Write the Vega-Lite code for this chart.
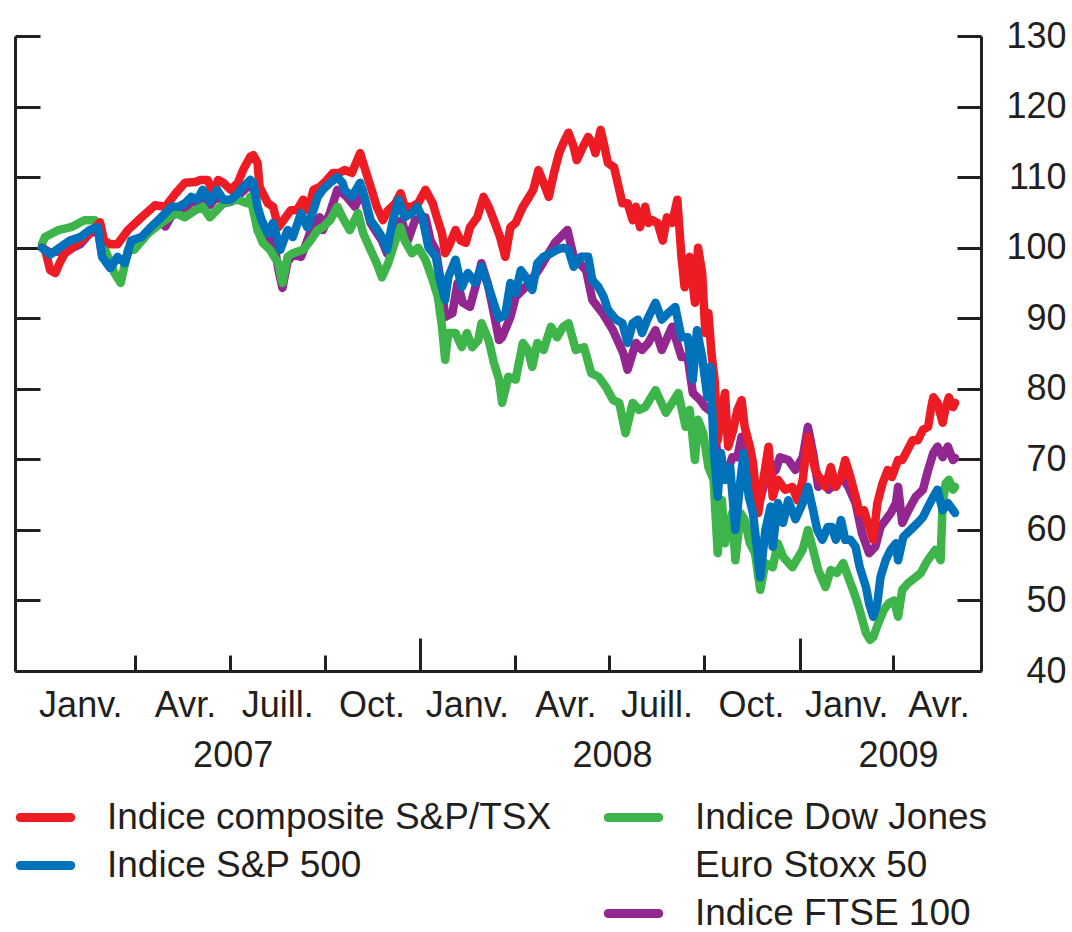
{
"$schema": "https://vega.github.io/schema/vega-lite/v6.json",
"width": 966,
"height": 635,
"autosize": {"type": "none"},
"padding": {"left": 15, "top": 36, "right": 91, "bottom": 261},
"background": "white",
"config": {
  "view": {"stroke": null},
  "font": "Liberation Sans",
  "axis": {"grid": false, "labelFont": "Liberation Sans", "labelColor": "#231F20", "tickColor": "#231F20", "domainColor": "#231F20", "labelOverlap": false, "labelFlush": false, "labelBound": false, "title": null},
  "legend": {"labelFont": "Liberation Sans", "labelColor": "#231F20", "labelLimit": 0}
},
"datasets": {
  "tsx": [
{"date":"2007-01-01","value":100},{"date":"2007-01-04","value":99.7},{"date":"2007-01-09","value":96.8},{"date":"2007-01-14","value":96.4},{"date":"2007-01-18","value":97.8},{"date":"2007-01-23","value":99.2},{"date":"2007-01-28","value":99.7},{"date":"2007-02-07","value":101},{"date":"2007-02-16","value":102},{"date":"2007-02-26","value":103.6},{"date":"2007-03-02","value":101},{"date":"2007-03-08","value":100.5},{"date":"2007-03-15","value":100.5},{"date":"2007-03-25","value":102.5},{"date":"2007-04-07","value":104.3},{"date":"2007-04-20","value":106},{"date":"2007-04-30","value":105.8},{"date":"2007-05-10","value":107.7},{"date":"2007-05-19","value":109.2},{"date":"2007-05-29","value":109.3},{"date":"2007-06-03","value":109.6},{"date":"2007-06-10","value":109.6},{"date":"2007-06-15","value":107.7},{"date":"2007-06-20","value":109.6},{"date":"2007-06-25","value":109.2},{"date":"2007-07-02","value":108.2},{"date":"2007-07-09","value":109.2},{"date":"2007-07-14","value":111},{"date":"2007-07-21","value":112.9},{"date":"2007-07-24","value":113.1},{"date":"2007-07-28","value":112},{"date":"2007-07-30","value":108.6},{"date":"2007-08-07","value":106.3},{"date":"2007-08-12","value":105.8},{"date":"2007-08-17","value":102.9},{"date":"2007-08-22","value":103.9},{"date":"2007-08-29","value":105.3},{"date":"2007-09-04","value":105.3},{"date":"2007-09-10","value":106.8},{"date":"2007-09-15","value":105.3},{"date":"2007-09-20","value":108.2},{"date":"2007-09-26","value":108.6},{"date":"2007-10-03","value":109.6},{"date":"2007-10-09","value":110.6},{"date":"2007-10-15","value":110.6},{"date":"2007-10-20","value":111},{"date":"2007-10-27","value":110.6},{"date":"2007-11-04","value":113.4},{"date":"2007-11-09","value":111},{"date":"2007-11-15","value":108.2},{"date":"2007-11-20","value":105.8},{"date":"2007-11-26","value":103.9},{"date":"2007-12-01","value":105.3},{"date":"2007-12-08","value":106.3},{"date":"2007-12-13","value":107.7},{"date":"2007-12-17","value":105.8},{"date":"2007-12-24","value":105.8},{"date":"2007-12-30","value":106.3},{"date":"2008-01-06","value":108.2},{"date":"2008-01-13","value":106.3},{"date":"2008-01-17","value":104.3},{"date":"2008-01-22","value":102},{"date":"2008-01-25","value":99.2},{"date":"2008-01-28","value":100},{"date":"2008-02-04","value":102.5},{"date":"2008-02-09","value":101},{"date":"2008-02-14","value":100.7},{"date":"2008-02-18","value":102.9},{"date":"2008-02-25","value":104.3},{"date":"2008-03-02","value":107.2},{"date":"2008-03-07","value":105.8},{"date":"2008-03-12","value":103.9},{"date":"2008-03-18","value":101.5},{"date":"2008-03-23","value":98.7},{"date":"2008-03-28","value":102.9},{"date":"2008-04-02","value":103.5},{"date":"2008-04-09","value":105.8},{"date":"2008-04-15","value":107.2},{"date":"2008-04-19","value":108.2},{"date":"2008-04-24","value":111},{"date":"2008-04-29","value":109.2},{"date":"2008-05-04","value":107.2},{"date":"2008-05-09","value":110.6},{"date":"2008-05-14","value":113.4},{"date":"2008-05-18","value":114.8},{"date":"2008-05-23","value":116.3},{"date":"2008-05-28","value":114.3},{"date":"2008-05-31","value":112.4},{"date":"2008-06-06","value":114.3},{"date":"2008-06-11","value":115.7},{"date":"2008-06-15","value":114.8},{"date":"2008-06-18","value":113.4},{"date":"2008-06-23","value":116.7},{"date":"2008-06-26","value":114.8},{"date":"2008-06-30","value":112},{"date":"2008-07-06","value":111.4},{"date":"2008-07-11","value":108.2},{"date":"2008-07-14","value":106.3},{"date":"2008-07-19","value":106.3},{"date":"2008-07-24","value":103.9},{"date":"2008-07-27","value":105.8},{"date":"2008-07-31","value":102.9},{"date":"2008-08-05","value":105.8},{"date":"2008-08-08","value":103.5},{"date":"2008-08-12","value":103.9},{"date":"2008-08-17","value":103.5},{"date":"2008-08-22","value":101},{"date":"2008-08-26","value":104.3},{"date":"2008-08-31","value":103.5},{"date":"2008-09-05","value":106.8},{"date":"2008-09-09","value":98.7},{"date":"2008-09-12","value":94.4},{"date":"2008-09-17","value":98.7},{"date":"2008-09-22","value":92.2},{"date":"2008-09-25","value":100},{"date":"2008-09-29","value":96.4},{"date":"2008-10-02","value":87.9},{"date":"2008-10-05","value":90.7},{"date":"2008-10-08","value":85},{"date":"2008-10-11","value":81.2},{"date":"2008-10-14","value":72.7},{"date":"2008-10-18","value":77},{"date":"2008-10-21","value":79.4},{"date":"2008-10-24","value":71.8},{"date":"2008-10-29","value":74.2},{"date":"2008-11-02","value":77},{"date":"2008-11-06","value":78.4},{"date":"2008-11-09","value":74.6},{"date":"2008-11-14","value":71.8},{"date":"2008-11-17","value":69.5},{"date":"2008-11-22","value":62.4},{"date":"2008-11-27","value":67.1},{"date":"2008-12-02","value":71.8},{"date":"2008-12-06","value":64.7},{"date":"2008-12-11","value":67.1},{"date":"2008-12-18","value":65.7},{"date":"2008-12-25","value":66.1},{"date":"2008-12-30","value":64.2},{"date":"2009-01-04","value":67.1},{"date":"2009-01-09","value":73.2},{"date":"2009-01-12","value":71.3},{"date":"2009-01-16","value":68.5},{"date":"2009-01-21","value":67.1},{"date":"2009-01-26","value":66.1},{"date":"2009-01-31","value":68.9},{"date":"2009-02-05","value":66.1},{"date":"2009-02-10","value":67.5},{"date":"2009-02-14","value":69.9},{"date":"2009-02-19","value":67.5},{"date":"2009-02-24","value":64.7},{"date":"2009-02-28","value":62.4},{"date":"2009-03-04","value":62.8},{"date":"2009-03-09","value":60.4},{"date":"2009-03-13","value":58.6},{"date":"2009-03-17","value":63.8},{"date":"2009-03-22","value":66.6},{"date":"2009-03-27","value":68.5},{"date":"2009-03-31","value":67.5},{"date":"2009-04-06","value":69.9},{"date":"2009-04-10","value":69.9},{"date":"2009-04-15","value":71.3},{"date":"2009-04-20","value":72.7},{"date":"2009-04-25","value":72.7},{"date":"2009-04-30","value":74.2},{"date":"2009-05-05","value":74.6},{"date":"2009-05-08","value":77.4},{"date":"2009-05-10","value":78.8},{"date":"2009-05-14","value":78},{"date":"2009-05-19","value":75.2},{"date":"2009-05-22","value":77.4},{"date":"2009-05-25","value":78.8},{"date":"2009-05-29","value":77.4},{"date":"2009-05-31","value":78}
  ],
  "sp500": [
{"date":"2007-01-01","value":100},{"date":"2007-01-09","value":99},{"date":"2007-01-18","value":100},{"date":"2007-01-28","value":101},{"date":"2007-02-07","value":101.5},{"date":"2007-02-16","value":102.5},{"date":"2007-02-24","value":102.9},{"date":"2007-02-28","value":98.7},{"date":"2007-03-08","value":97.1},{"date":"2007-03-15","value":98.7},{"date":"2007-03-22","value":97.8},{"date":"2007-03-28","value":101},{"date":"2007-04-07","value":101.5},{"date":"2007-04-16","value":102.9},{"date":"2007-04-26","value":104.3},{"date":"2007-05-06","value":105.8},{"date":"2007-05-13","value":105.8},{"date":"2007-05-19","value":106.3},{"date":"2007-05-25","value":107.2},{"date":"2007-05-31","value":106.8},{"date":"2007-06-05","value":108.2},{"date":"2007-06-12","value":106.5},{"date":"2007-06-19","value":108.2},{"date":"2007-06-25","value":106.8},{"date":"2007-07-02","value":106.8},{"date":"2007-07-09","value":107.7},{"date":"2007-07-14","value":108.6},{"date":"2007-07-21","value":109.6},{"date":"2007-07-24","value":109.2},{"date":"2007-07-28","value":105.8},{"date":"2007-08-01","value":103.9},{"date":"2007-08-07","value":102},{"date":"2007-08-12","value":103.5},{"date":"2007-08-19","value":99.7},{"date":"2007-08-26","value":102.5},{"date":"2007-08-31","value":101.5},{"date":"2007-09-08","value":104.9},{"date":"2007-09-14","value":102.9},{"date":"2007-09-20","value":105.3},{"date":"2007-09-24","value":107.2},{"date":"2007-09-29","value":108.2},{"date":"2007-10-06","value":109.2},{"date":"2007-10-13","value":110},{"date":"2007-10-18","value":109.2},{"date":"2007-10-20","value":108.2},{"date":"2007-10-27","value":107.2},{"date":"2007-11-04","value":109.2},{"date":"2007-11-09","value":106.8},{"date":"2007-11-14","value":103.9},{"date":"2007-11-19","value":102.9},{"date":"2007-11-25","value":101.5},{"date":"2007-11-30","value":99.7},{"date":"2007-12-05","value":103.5},{"date":"2007-12-11","value":106.8},{"date":"2007-12-17","value":104.3},{"date":"2007-12-24","value":104.9},{"date":"2007-12-29","value":105.8},{"date":"2008-01-03","value":104.3},{"date":"2008-01-09","value":100},{"date":"2008-01-16","value":98.7},{"date":"2008-01-20","value":95.4},{"date":"2008-01-25","value":92.6},{"date":"2008-01-28","value":95.8},{"date":"2008-02-04","value":98.3},{"date":"2008-02-10","value":94.4},{"date":"2008-02-16","value":96.4},{"date":"2008-02-23","value":95},{"date":"2008-02-29","value":97.3},{"date":"2008-03-07","value":94.4},{"date":"2008-03-14","value":91.2},{"date":"2008-03-17","value":90},{"date":"2008-03-23","value":90.5},{"date":"2008-03-28","value":95},{"date":"2008-04-02","value":93.6},{"date":"2008-04-07","value":96.8},{"date":"2008-04-12","value":95.8},{"date":"2008-04-18","value":94},{"date":"2008-04-23","value":97.8},{"date":"2008-04-29","value":98.7},{"date":"2008-05-06","value":99.2},{"date":"2008-05-12","value":99.7},{"date":"2008-05-18","value":100},{"date":"2008-05-23","value":99.7},{"date":"2008-05-28","value":97.3},{"date":"2008-06-04","value":98.7},{"date":"2008-06-11","value":98.7},{"date":"2008-06-15","value":95.4},{"date":"2008-06-21","value":94.4},{"date":"2008-06-26","value":93},{"date":"2008-06-30","value":91.2},{"date":"2008-07-08","value":89.8},{"date":"2008-07-14","value":89.3},{"date":"2008-07-19","value":86.5},{"date":"2008-07-24","value":89.3},{"date":"2008-07-29","value":89.8},{"date":"2008-08-02","value":87.9},{"date":"2008-08-07","value":89.8},{"date":"2008-08-15","value":92.2},{"date":"2008-08-21","value":89.8},{"date":"2008-08-27","value":90.7},{"date":"2008-09-03","value":91.6},{"date":"2008-09-09","value":87.3},{"date":"2008-09-15","value":87.3},{"date":"2008-09-20","value":81.3},{"date":"2008-09-24","value":88.3},{"date":"2008-09-29","value":84.5},{"date":"2008-10-04","value":78.8},{"date":"2008-10-07","value":83.1},{"date":"2008-10-10","value":71.8},{"date":"2008-10-14","value":64.7},{"date":"2008-10-17","value":70.9},{"date":"2008-10-21","value":67.1},{"date":"2008-10-26","value":68.9},{"date":"2008-10-31","value":60},{"date":"2008-11-05","value":67.1},{"date":"2008-11-08","value":70.9},{"date":"2008-11-13","value":64.7},{"date":"2008-11-17","value":62.4},{"date":"2008-11-24","value":53.3},{"date":"2008-11-29","value":60},{"date":"2008-12-04","value":63.3},{"date":"2008-12-06","value":57.6},{"date":"2008-12-11","value":63.8},{"date":"2008-12-16","value":61},{"date":"2008-12-21","value":64.2},{"date":"2008-12-28","value":61.5},{"date":"2009-01-04","value":63.8},{"date":"2009-01-09","value":66.1},{"date":"2009-01-14","value":62.8},{"date":"2009-01-18","value":60},{"date":"2009-01-23","value":58.6},{"date":"2009-01-28","value":60.4},{"date":"2009-02-01","value":60.4},{"date":"2009-02-05","value":58.6},{"date":"2009-02-10","value":61.4},{"date":"2009-02-14","value":58.6},{"date":"2009-02-19","value":58.6},{"date":"2009-02-24","value":57.6},{"date":"2009-02-28","value":54.7},{"date":"2009-03-06","value":51.9},{"date":"2009-03-09","value":49.6},{"date":"2009-03-13","value":47.7},{"date":"2009-03-17","value":49.6},{"date":"2009-03-20","value":53.3},{"date":"2009-03-25","value":55.7},{"date":"2009-03-30","value":57.2},{"date":"2009-04-04","value":58.1},{"date":"2009-04-06","value":55.7},{"date":"2009-04-11","value":59},{"date":"2009-04-18","value":60},{"date":"2009-04-25","value":61},{"date":"2009-04-30","value":61.8},{"date":"2009-05-05","value":63.3},{"date":"2009-05-10","value":64.7},{"date":"2009-05-14","value":65.7},{"date":"2009-05-19","value":62.8},{"date":"2009-05-24","value":63.8},{"date":"2009-05-29","value":62.8},{"date":"2009-05-31","value":62.4}
  ],
  "stoxx": [
{"date":"2007-01-01","value":100.5},{"date":"2007-01-04","value":101.5},{"date":"2007-01-17","value":102.5},{"date":"2007-01-29","value":102.9},{"date":"2007-02-11","value":103.9},{"date":"2007-02-21","value":103.9},{"date":"2007-03-03","value":99.7},{"date":"2007-03-12","value":96.4},{"date":"2007-03-18","value":95},{"date":"2007-03-25","value":99.7},{"date":"2007-03-31","value":99.7},{"date":"2007-04-13","value":102},{"date":"2007-04-26","value":103.5},{"date":"2007-05-10","value":104.9},{"date":"2007-05-19","value":104.3},{"date":"2007-05-29","value":105.3},{"date":"2007-06-05","value":105.8},{"date":"2007-06-12","value":104.3},{"date":"2007-06-25","value":106.3},{"date":"2007-07-09","value":106.8},{"date":"2007-07-18","value":106.3},{"date":"2007-07-21","value":107.2},{"date":"2007-07-28","value":102.5},{"date":"2007-08-02","value":100.7},{"date":"2007-08-09","value":99.7},{"date":"2007-08-17","value":97.8},{"date":"2007-08-21","value":95},{"date":"2007-08-26","value":98.7},{"date":"2007-08-31","value":99.2},{"date":"2007-09-10","value":99.7},{"date":"2007-09-17","value":101},{"date":"2007-09-24","value":102.5},{"date":"2007-09-29","value":102.9},{"date":"2007-10-06","value":103.9},{"date":"2007-10-13","value":105.8},{"date":"2007-10-18","value":104.3},{"date":"2007-10-25","value":102.5},{"date":"2007-11-02","value":104.9},{"date":"2007-11-07","value":102},{"date":"2007-11-14","value":99.7},{"date":"2007-11-20","value":97.8},{"date":"2007-11-25","value":95.8},{"date":"2007-12-01","value":97.8},{"date":"2007-12-08","value":101},{"date":"2007-12-13","value":102.9},{"date":"2007-12-17","value":101},{"date":"2007-12-24","value":99.2},{"date":"2007-12-30","value":100},{"date":"2008-01-06","value":98.3},{"date":"2008-01-13","value":95.4},{"date":"2008-01-18","value":93},{"date":"2008-01-22","value":88.8},{"date":"2008-01-25","value":84.1},{"date":"2008-01-28","value":87.9},{"date":"2008-02-04","value":87.9},{"date":"2008-02-10","value":85.9},{"date":"2008-02-15","value":87.9},{"date":"2008-02-20","value":85.9},{"date":"2008-02-26","value":86.9},{"date":"2008-02-29","value":89.3},{"date":"2008-03-07","value":86.9},{"date":"2008-03-12","value":83.7},{"date":"2008-03-17","value":81.3},{"date":"2008-03-20","value":78},{"date":"2008-03-26","value":81.7},{"date":"2008-04-02","value":81.3},{"date":"2008-04-09","value":86.5},{"date":"2008-04-14","value":85.5},{"date":"2008-04-18","value":83.1},{"date":"2008-04-23","value":86.5},{"date":"2008-04-29","value":85.5},{"date":"2008-05-06","value":88.8},{"date":"2008-05-12","value":87.3},{"date":"2008-05-18","value":88.8},{"date":"2008-05-23","value":89.3},{"date":"2008-05-30","value":85.5},{"date":"2008-06-07","value":85.9},{"date":"2008-06-14","value":82.2},{"date":"2008-06-21","value":81.7},{"date":"2008-06-28","value":80.3},{"date":"2008-07-05","value":78.4},{"date":"2008-07-11","value":78},{"date":"2008-07-17","value":73.7},{"date":"2008-07-24","value":78},{"date":"2008-07-30","value":77},{"date":"2008-08-05","value":77.4},{"date":"2008-08-15","value":79.8},{"date":"2008-08-25","value":76.6},{"date":"2008-09-06","value":79.4},{"date":"2008-09-13","value":74.6},{"date":"2008-09-17","value":77},{"date":"2008-09-22","value":69.9},{"date":"2008-09-25","value":75.6},{"date":"2008-09-30","value":73.7},{"date":"2008-10-05","value":68.9},{"date":"2008-10-10","value":67.1},{"date":"2008-10-14","value":56.7},{"date":"2008-10-18","value":64.2},{"date":"2008-10-21","value":58.1},{"date":"2008-10-28","value":62.4},{"date":"2008-10-31","value":55.7},{"date":"2008-11-05","value":62.4},{"date":"2008-11-09","value":61.4},{"date":"2008-11-14","value":58.1},{"date":"2008-11-19","value":56.7},{"date":"2008-11-24","value":51.5},{"date":"2008-11-29","value":55.3},{"date":"2008-12-06","value":54.7},{"date":"2008-12-11","value":58.1},{"date":"2008-12-16","value":56.2},{"date":"2008-12-25","value":54.7},{"date":"2008-12-31","value":56.2},{"date":"2009-01-04","value":57.2},{"date":"2009-01-09","value":60},{"date":"2009-01-14","value":57.2},{"date":"2009-01-19","value":54.3},{"date":"2009-01-26","value":51.9},{"date":"2009-01-31","value":54.3},{"date":"2009-02-06","value":53.9},{"date":"2009-02-12","value":55.3},{"date":"2009-02-17","value":53.3},{"date":"2009-02-24","value":50.5},{"date":"2009-02-28","value":48.6},{"date":"2009-03-06","value":45.4},{"date":"2009-03-10","value":44.4},{"date":"2009-03-13","value":44.8},{"date":"2009-03-18","value":46.8},{"date":"2009-03-23","value":48.6},{"date":"2009-03-28","value":49.6},{"date":"2009-04-02","value":50},{"date":"2009-04-06","value":47.7},{"date":"2009-04-10","value":51.5},{"date":"2009-04-16","value":52.5},{"date":"2009-04-23","value":53.3},{"date":"2009-04-28","value":53.9},{"date":"2009-05-03","value":55.3},{"date":"2009-05-07","value":56.2},{"date":"2009-05-12","value":57.2},{"date":"2009-05-17","value":55.7},{"date":"2009-05-19","value":63.8},{"date":"2009-05-22","value":66.6},{"date":"2009-05-25","value":67.1},{"date":"2009-05-29","value":65.7},{"date":"2009-05-31","value":66.1}
  ],
  "ftse": [
{"date":"2007-01-01","value":100},{"date":"2007-01-09","value":99.3},{"date":"2007-01-18","value":99.5},{"date":"2007-01-28","value":99.8},{"date":"2007-02-07","value":100.5},{"date":"2007-02-16","value":102},{"date":"2007-02-24","value":102.5},{"date":"2007-02-28","value":99},{"date":"2007-03-08","value":97.5},{"date":"2007-03-15","value":98.5},{"date":"2007-03-22","value":98},{"date":"2007-03-28","value":100.5},{"date":"2007-04-07","value":101},{"date":"2007-04-16","value":102.5},{"date":"2007-04-26","value":103.8},{"date":"2007-04-30","value":103},{"date":"2007-05-06","value":104.5},{"date":"2007-05-13","value":105},{"date":"2007-05-19","value":105.5},{"date":"2007-05-25","value":106.5},{"date":"2007-05-31","value":106.3},{"date":"2007-06-05","value":107.5},{"date":"2007-06-12","value":106},{"date":"2007-06-19","value":107.5},{"date":"2007-06-25","value":106.3},{"date":"2007-07-02","value":106.5},{"date":"2007-07-09","value":107.3},{"date":"2007-07-14","value":108},{"date":"2007-07-21","value":109},{"date":"2007-07-24","value":108.5},{"date":"2007-07-28","value":104.5},{"date":"2007-08-01","value":102.5},{"date":"2007-08-07","value":100.5},{"date":"2007-08-12","value":101.5},{"date":"2007-08-17","value":97},{"date":"2007-08-21","value":94.3},{"date":"2007-08-26","value":98},{"date":"2007-08-31","value":99},{"date":"2007-09-08","value":98.7},{"date":"2007-09-14","value":101},{"date":"2007-09-20","value":103.5},{"date":"2007-09-26","value":104.3},{"date":"2007-09-29","value":102.5},{"date":"2007-10-06","value":105},{"date":"2007-10-13","value":108.2},{"date":"2007-10-18","value":107.7},{"date":"2007-10-22","value":107.2},{"date":"2007-10-30","value":105.8},{"date":"2007-11-06","value":108.2},{"date":"2007-11-14","value":103.5},{"date":"2007-11-25","value":101},{"date":"2007-11-30","value":99.2},{"date":"2007-12-08","value":102.9},{"date":"2007-12-14","value":103.9},{"date":"2007-12-20","value":101},{"date":"2007-12-27","value":103.9},{"date":"2008-01-06","value":104.3},{"date":"2008-01-11","value":101},{"date":"2008-01-16","value":99.7},{"date":"2008-01-22","value":94},{"date":"2008-01-25","value":90.2},{"date":"2008-02-01","value":90.7},{"date":"2008-02-06","value":95},{"date":"2008-02-11","value":92.2},{"date":"2008-02-18","value":91.6},{"date":"2008-02-25","value":95.4},{"date":"2008-02-29","value":97.8},{"date":"2008-03-06","value":95},{"date":"2008-03-12","value":90.7},{"date":"2008-03-17","value":86.9},{"date":"2008-03-20","value":87.3},{"date":"2008-03-28","value":90.2},{"date":"2008-04-02","value":93},{"date":"2008-04-12","value":94.5},{"date":"2008-04-24","value":96.8},{"date":"2008-05-10","value":100.7},{"date":"2008-05-22","value":102.5},{"date":"2008-05-28","value":98.7},{"date":"2008-06-09","value":96.8},{"date":"2008-06-15","value":92.6},{"date":"2008-06-25","value":90.7},{"date":"2008-07-05","value":88.3},{"date":"2008-07-15","value":85},{"date":"2008-07-19","value":82.7},{"date":"2008-07-27","value":86.5},{"date":"2008-08-02","value":85.5},{"date":"2008-08-08","value":86.5},{"date":"2008-08-15","value":88.3},{"date":"2008-08-21","value":85.5},{"date":"2008-08-31","value":88.8},{"date":"2008-09-09","value":84.5},{"date":"2008-09-15","value":84.5},{"date":"2008-09-20","value":79.4},{"date":"2008-09-27","value":78.4},{"date":"2008-10-02","value":77.4},{"date":"2008-10-09","value":76.6},{"date":"2008-10-14","value":70.3},{"date":"2008-10-21","value":67.1},{"date":"2008-10-28","value":70.3},{"date":"2008-11-02","value":70.3},{"date":"2008-11-06","value":73.2},{"date":"2008-11-11","value":68.1},{"date":"2008-11-16","value":66.1},{"date":"2008-11-22","value":63.3},{"date":"2008-11-29","value":67.1},{"date":"2008-12-09","value":68.5},{"date":"2008-12-13","value":70.3},{"date":"2008-12-21","value":69.9},{"date":"2008-12-28","value":68.5},{"date":"2009-01-04","value":70.3},{"date":"2009-01-09","value":74.6},{"date":"2009-01-14","value":70.9},{"date":"2009-01-19","value":66.1},{"date":"2009-01-24","value":67.1},{"date":"2009-01-29","value":65.7},{"date":"2009-02-05","value":66.6},{"date":"2009-02-11","value":67.5},{"date":"2009-02-17","value":66.1},{"date":"2009-02-24","value":63.8},{"date":"2009-03-02","value":59.6},{"date":"2009-03-09","value":56.7},{"date":"2009-03-15","value":57.6},{"date":"2009-03-20","value":60.4},{"date":"2009-03-25","value":61.4},{"date":"2009-03-30","value":62.4},{"date":"2009-04-04","value":63.8},{"date":"2009-04-06","value":66.1},{"date":"2009-04-10","value":61},{"date":"2009-04-16","value":62.8},{"date":"2009-04-23","value":64.7},{"date":"2009-04-30","value":65.7},{"date":"2009-05-05","value":68.5},{"date":"2009-05-10","value":70.9},{"date":"2009-05-14","value":71.8},{"date":"2009-05-19","value":70.3},{"date":"2009-05-24","value":71.8},{"date":"2009-05-29","value":69.9},{"date":"2009-05-31","value":70.2}
  ]
},
"resolve": {"axis": {"x": "independent", "y": "independent"}},
"layer": [
  {
    "data": {"name": "ftse"},
    "mark": {"type": "line", "strokeWidth": 8.5, "strokeJoin": "round", "strokeCap": "round"},
    "encoding": {
      "x": {"field": "date", "type": "temporal",
        "scale": {"domain": [{"year": 2006, "month": 12, "date": 6}, {"year": 2009, "month": 6, "date": 25}]},
        "axis": {"orient": "bottom", "labels": false, "tickSize": -16, "tickWidth": 3, "domain": true, "domainWidth": 3,
          "values": [{"year": 2007, "month": 4, "date": 1}, {"year": 2007, "month": 7, "date": 1}, {"year": 2007, "month": 10, "date": 1}, {"year": 2008, "month": 4, "date": 1}, {"year": 2008, "month": 7, "date": 1}, {"year": 2008, "month": 10, "date": 1}, {"year": 2009, "month": 4, "date": 1}]}},
      "y": {"field": "value", "type": "quantitative",
        "scale": {"domain": [40, 130], "nice": false, "zero": false},
        "axis": {"orient": "left", "labels": false, "tickSize": -25, "tickWidth": 3, "domain": true, "domainWidth": 3,
          "values": [40, 50, 60, 70, 80, 90, 100, 110, 120, 130]}},
      "stroke": {"datum": "Indice FTSE 100", "type": "nominal",
        "scale": {"domain": ["Indice Dow Jones Euro Stoxx 50", "Euro Stoxx 50", "Indice FTSE 100"], "range": ["#3DB54A", "rgba(0,0,0,0)", "#92278F"]},
        "legend": {"orient": "none", "legendX": 600, "legendY": 763, "title": null, "padding": 0, "labelLimit": 0,
          "symbolType": "M-2.1,0H2.1", "symbolSize": 576, "symbolStrokeWidth": 9, "labelFontSize": 37, "labelOffset": 43, "rowPadding": 10,
          "labelExpr": "datum.label == 'Indice Dow Jones Euro Stoxx 50' ? 'Indice Dow Jones' : datum.label",
          "encode": {"symbols": {"update": {"strokeCap": {"value": "round"}}}}}}
    }
  },
  {
    "data": {"name": "stoxx"},
    "mark": {"type": "line", "strokeWidth": 8.5, "strokeJoin": "round", "strokeCap": "round"},
    "encoding": {
      "x": {"field": "date", "type": "temporal",
        "axis": {"orient": "bottom", "labels": false, "tickSize": -33, "tickWidth": 3, "domain": false,
          "values": [{"year": 2008, "month": 1, "date": 1}, {"year": 2009, "month": 1, "date": 1}]}},
      "y": {"field": "value", "type": "quantitative",
        "axis": {"orient": "right", "labels": false, "tickSize": -24, "tickWidth": 3, "domain": true, "domainWidth": 3,
          "values": [40, 50, 60, 70, 80, 90, 100, 110, 120, 130]}},
      "stroke": {"datum": "Indice Dow Jones Euro Stoxx 50", "type": "nominal"}
    }
  },
  {
    "data": {"name": "tsx"},
    "mark": {"type": "line", "strokeWidth": 8.5, "strokeJoin": "round", "strokeCap": "round"},
    "encoding": {
      "x": {"field": "date", "type": "temporal",
        "axis": {"orient": "bottom", "ticks": false, "tickSize": 0, "domain": false, "labelFontSize": 36, "labelPadding": 34, "labelBaseline": "middle", "labelAlign": "center",
          "labelExpr": "['Janv.','Janv.','Janv.','Avr.','Avr.','Avr.','Juill.','Juill.','Juill.','Oct.','Oct.','Oct.'][month(datum.value)]",
          "values": [{"year": 2007, "month": 2, "date": 7}, {"year": 2007, "month": 5, "date": 19}, {"year": 2007, "month": 8, "date": 16}, {"year": 2007, "month": 11, "date": 15}, {"year": 2008, "month": 2, "date": 15}, {"year": 2008, "month": 5, "date": 20}, {"year": 2008, "month": 8, "date": 16}, {"year": 2008, "month": 11, "date": 15}, {"year": 2009, "month": 2, "date": 15}, {"year": 2009, "month": 5, "date": 15}]}},
      "y": {"field": "value", "type": "quantitative",
        "axis": {"orient": "right", "ticks": false, "tickSize": 0, "domain": false, "labelFontSize": 36, "labelPadding": 85, "labelAlign": "right", "labelBaseline": "middle",
          "values": [40, 50, 60, 70, 80, 90, 100, 110, 120, 130]}},
      "color": {"datum": "Indice composite S&P/TSX", "type": "nominal",
        "scale": {"domain": ["Indice composite S&P/TSX", "Indice S&P 500"], "range": ["#ED1C24", "#0072BC"]},
        "legend": {"orient": "none", "legendX": 12, "legendY": 763, "title": null, "padding": 0, "labelLimit": 0,
          "symbolType": "M-2.1,0H2.1", "symbolSize": 576, "symbolStrokeWidth": 9, "labelFontSize": 37, "labelOffset": 43, "rowPadding": 10,
          "encode": {"symbols": {"update": {"strokeCap": {"value": "round"}}}}}}
    }
  },
  {
    "data": {"name": "sp500"},
    "mark": {"type": "line", "strokeWidth": 8.5, "strokeJoin": "round", "strokeCap": "round"},
    "encoding": {
      "x": {"field": "date", "type": "temporal",
        "axis": {"orient": "bottom", "ticks": false, "tickSize": 0, "domain": false, "labelFontSize": 36, "labelPadding": 84, "labelBaseline": "middle", "labelAlign": "center", "format": "%Y",
          "values": [{"year": 2007, "month": 7, "date": 4}, {"year": 2008, "month": 7, "date": 4}, {"year": 2009, "month": 4, "date": 6}]}},
      "y": {"field": "value", "type": "quantitative", "axis": null},
      "color": {"datum": "Indice S&P 500", "type": "nominal"}
    }
  }
]
}
